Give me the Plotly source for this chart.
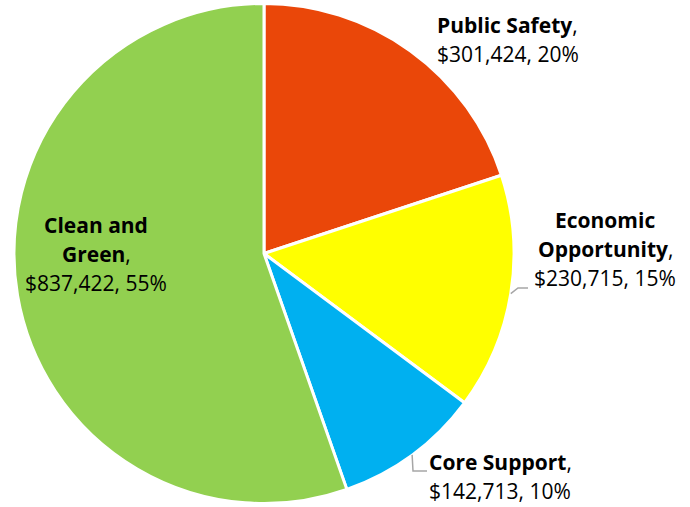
import math
import plotly.graph_objects as go

# Budget by program area
categories = ["Public Safety", "Economic Opportunity", "Core Support", "Clean and Green"]
amounts = [301424, 230715, 142713, 837422]
pct_labels = ["20%", "15%", "10%", "55%"]
colors = ["#EA4709", "#FFFF00", "#00B0F0", "#92D050"]

# Label line breaks for each category (bold part split over lines)
name_lines = [["Public Safety"], ["Economic", "Opportunity"], ["Core Support"], ["Clean and", "Green"]]

W, H = 690, 507
CX, CY, R = 264, 253.5, 250  # pie centre and radius in px

fig = go.Figure(go.Pie(
    labels=categories,
    values=amounts,
    sort=False,
    direction="clockwise",
    rotation=0,
    marker=dict(colors=colors, line=dict(color="white", width=3)),
    textinfo="none",
    hoverinfo="label+value+percent",
    domain=dict(x=[(CX - R) / W, (CX + R) / W], y=[1 - (CY + R) / H, 1 - (CY - R) / H]),
    showlegend=False,
))

def px(x):
    return x / W

def py(y):
    return 1 - y / H

# Label block placement: (anchor x px, first line y px, x anchor)
label_pos = [(435, 25, "left"), (605, 220, "center"), (427, 462, "left"), (96, 225, "center")]
LINE = 29
FONT = dict(family="Open Sans", size=21, color="black")

annotations = []
for names, amt, pct, (lx, ly, xa) in zip(name_lines, amounts, pct_labels, label_pos):
    lines = ["<b>%s</b>" % n for n in names]
    lines[-1] += ","
    lines.append("${:,}, {}".format(amt, pct))
    for i, t in enumerate(lines):
        annotations.append(dict(
            x=px(lx), y=py(ly + i * LINE), xref="paper", yref="paper",
            text=t, showarrow=False, xanchor=xa, yanchor="middle",
            font=FONT,
        ))

# Leader lines from slice mid-angle edge to the label
total = sum(amounts)
cum = 0
mids = []
for a in amounts:
    mids.append((cum + a / 2) / total * 2 * math.pi)
    cum += a

leaders = {1: [(518, 288), (528, 288)], 2: [(413, 471), (427, 471)]}
shapes = []
for idx, pts in leaders.items():
    ang = mids[idx]
    sx = CX + R * math.sin(ang)
    sy = CY - R * math.cos(ang)
    path_pts = [(sx, sy)] + pts
    d = "M " + " L ".join("%f,%f" % (px(x), py(y)) for x, y in path_pts)
    shapes.append(dict(type="path", path=d, xref="paper", yref="paper",
                       line=dict(color="#A6A6A6", width=1.5)))

fig.update_layout(
    width=W, height=H,
    margin=dict(l=0, r=0, t=0, b=0),
    paper_bgcolor="white",
    plot_bgcolor="white",
    annotations=annotations,
    shapes=shapes,
)

fig.write_html("out.html")
